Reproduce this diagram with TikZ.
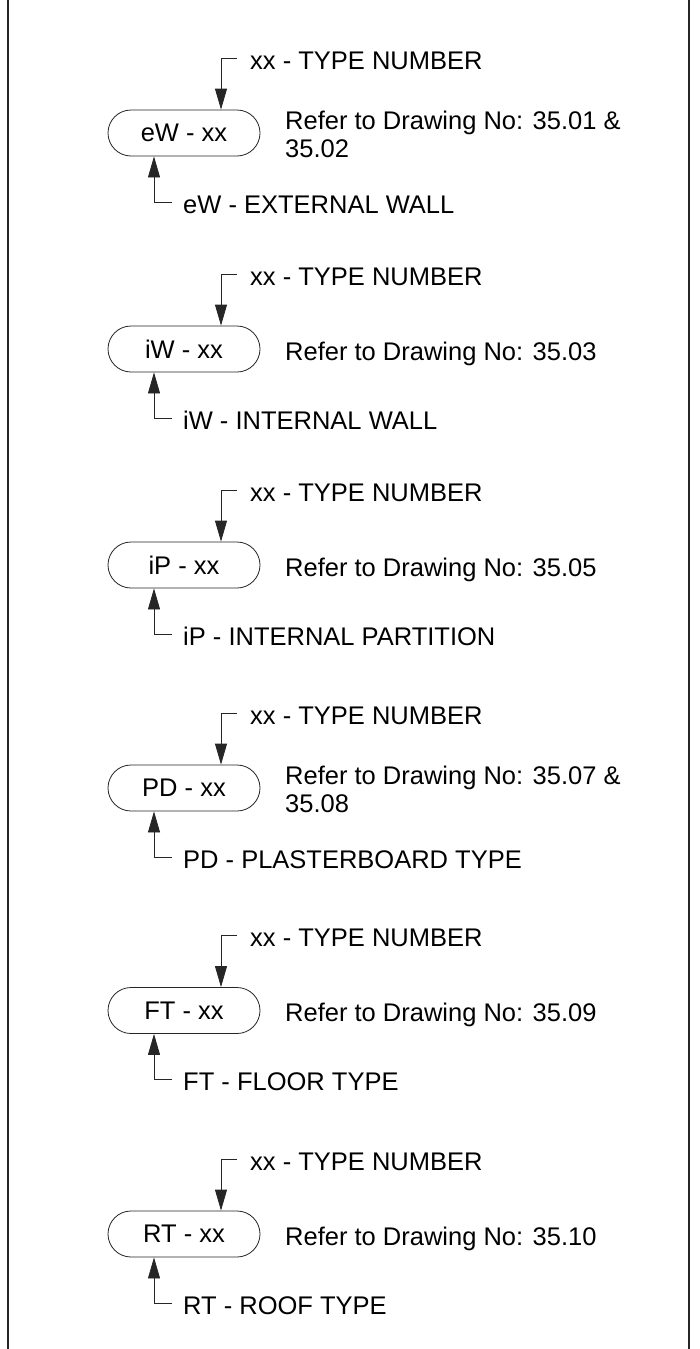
\documentclass[tikz,border=0pt]{standalone}
\usepackage{fontspec}
\setmainfont{Liberation Sans}
\usetikzlibrary{arrows.meta}
\tikzset{
  txt/.style={inner sep=0pt, font=\fontsize{25.5}{28}\selectfont, text=black},
  tagbox/.style={draw=black!85, line width=0.8pt, rectangle, rounded corners=23pt,
     minimum width=152pt, minimum height=46pt, inner sep=0pt,
     font=\fontsize{25.5}{28}\selectfont},
  leader/.style={draw=black!85, line width=0.8pt, -{Triangle[length=21pt,width=12pt]}},
  frameline/.style={draw=black!85, line width=1.4pt}
}
% #1 id, #2 box centre y, #3 box text, #4 bottom label, #5 refer text, #6 refer (last-line) baseline offset
\newcommand\tagrow[6]{%
  \node[tagbox] (box#1) at (184,{#2}) {\raisebox{-1.5pt}{#3}};
  \node[txt, anchor=base west] (lab#1) at (250,{#2-64}) {xx - TYPE NUMBER};
  \node[txt, anchor=base west] (des#1) at (183,{#2+80}) {#4};
  \node[txt, anchor=base west, align=left] (ref#1) at (285,{#2+#6}) {#5};
  \coordinate (tk#1) at (237,{#2-75});
  \coordinate (tc#1) at (221,{#2-75});
  \coordinate (bk#1) at (172,{#2+69});
  \coordinate (bc#1) at (154,{#2+69});
  \draw[leader] (tk#1) -- (tc#1) -- (tc#1 |- box#1.north);
  \draw[leader] (bk#1) -- (bc#1) -- (bc#1 |- box#1.south);
}
\begin{document}
\begin{tikzpicture}[x=1pt,y=-1pt]
\useasboundingbox (0,0) rectangle (699,1349);
\draw[frameline] (8,0) -- (8,1349);
\draw[frameline] (689,0) -- (689,1349);
\tagrow{1}{133}{eW - xx}{eW - EXTERNAL WALL}{Refer to Drawing No: 35.01 \&\\35.02}{24}
\tagrow{2}{349}{iW - xx}{iW - INTERNAL WALL}{Refer to Drawing No: 35.03}{11}
\tagrow{3}{565}{iP - xx}{iP - INTERNAL PARTITION}{Refer to Drawing No: 35.05}{11}
\tagrow{4}{788}{PD - xx}{PD - PLASTERBOARD TYPE}{Refer to Drawing No: 35.07 \&\\35.08}{24}
\tagrow{5}{1010.5}{FT - xx}{FT - FLOOR TYPE}{Refer to Drawing No: 35.09}{11}
\tagrow{6}{1234}{RT - xx}{RT - ROOF TYPE}{Refer to Drawing No: 35.10}{11}
\end{tikzpicture}
\end{document}
